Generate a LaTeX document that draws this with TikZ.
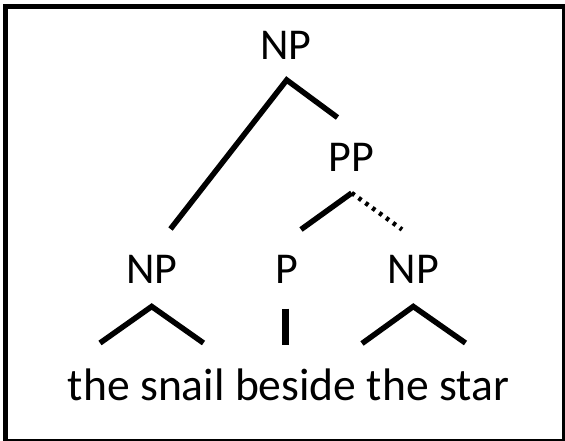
\documentclass[tikz,border=0pt]{standalone}
\usepackage{fontspec}
\setmainfont{Carlito}

\begin{document}
\begin{tikzpicture}[x=1pt,y=-1pt,
    cat/.style={anchor=base,inner sep=0pt,font=\fontsize{44}{48}\selectfont},
    branch/.style={line width=5.5pt},
    gap/.style={line width=4.5pt,dash pattern=on 3.5pt off 5pt}]
  \useasboundingbox (0,0) rectangle (565,441);
  \draw[line width=4.5pt] (5.5,6.5) rectangle (564,441);

  % labels
  \node[cat] (np) at (286,59.3) {NP};
  \node[cat] (pp) at (351.7,171.7) {PP};
  \node[cat] (np-l) at (151.7,283.3) {NP};
  \node[cat] (p) at (286.7,283.3) {P};
  \node[cat] (np-r) at (413.3,283.3) {NP};
  \node[cat,font=\fontsize{45.6}{48}\selectfont] (words) at (288.5,400) {the snail beside the star};

  % branch ends
  \coordinate (np-top) at (286.7,80);
  \coordinate (np-a) at (170.5,229);
  \coordinate (np-b) at (337.5,117.5);
  \coordinate (pp-top) at (351.7,193);
  \coordinate (pp-a) at (301,229.5);
  \coordinate (pp-b) at (402,229.5);
  \coordinate (l-top) at (151.7,306.5);
  \coordinate (l-a) at (100,343);
  \coordinate (l-b) at (203.5,343);
  \coordinate (p-top) at (285.5,308.5);
  \coordinate (p-bot) at (285.5,345);
  \coordinate (r-top) at (413.3,306.5);
  \coordinate (r-a) at (362,343.5);
  \coordinate (r-b) at (465.5,343);

  \draw[branch] (np-a) -- (np-top) -- (np-b);
  \draw[branch] (pp-a) -- (pp-top);
  \draw[gap] (pp-top) -- (pp-b);
  \draw[branch] (l-a) -- (l-top) -- (l-b);
  \draw[branch,line width=6.5pt] (p-top) -- (p-bot);
  \draw[branch] (r-a) -- (r-top) -- (r-b);
\end{tikzpicture}
\end{document}
